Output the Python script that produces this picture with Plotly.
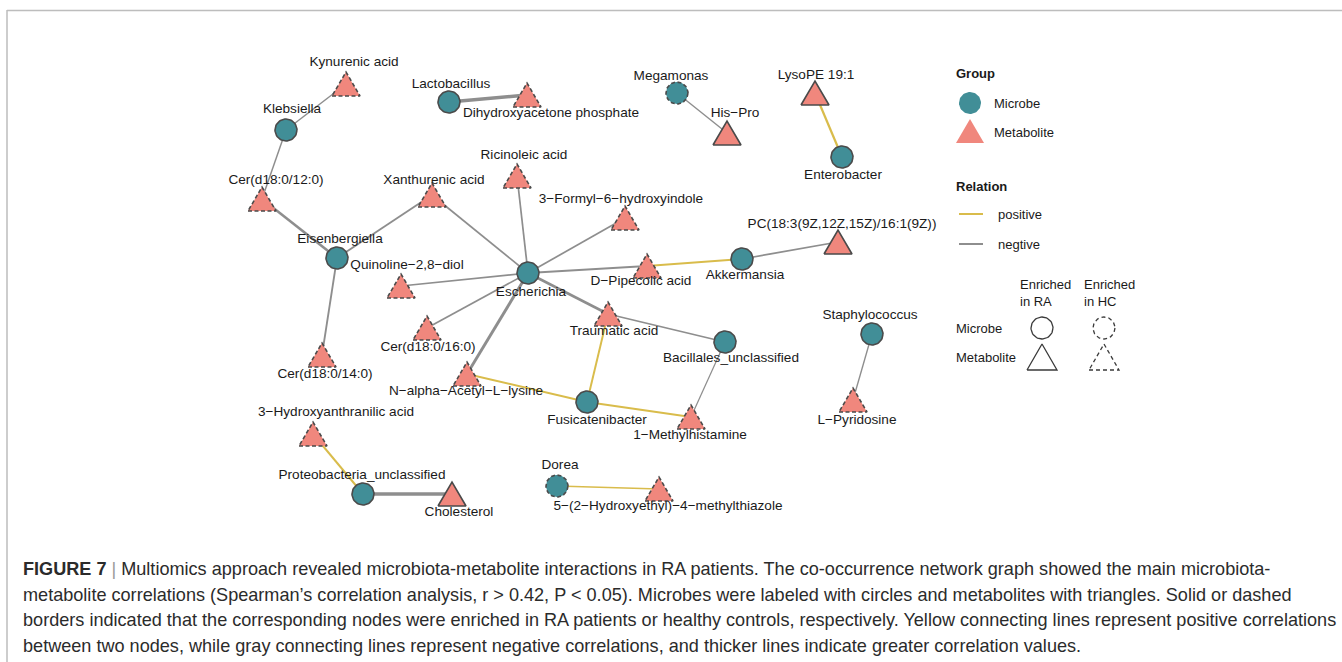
import numpy as np
import plotly.graph_objects as go

W, H = 1342, 662
FONT = "Liberation Sans, Arial, sans-serif"

# ---- nodes -----------------------------------------------------------------
microbes = ["Klebsiella", "Lactobacillus", "Megamonas", "Enterobacter",
            "Eisenbergiella", "Escherichia", "Akkermansia",
            "Bacillales_unclassified", "Staphylococcus", "Fusicatenibacter",
            "Proteobacteria_unclassified", "Dorea"]
microbe_enriched = ["RA", "RA", "HC", "RA", "RA", "RA", "RA", "RA", "RA", "RA",
                    "RA", "HC"]

metabolites = ["Kynurenic acid", "Dihydroxyacetone phosphate", "His−Pro",
               "LysoPE 19:1", "Cer(d18:0/12:0)", "Xanthurenic acid",
               "Ricinoleic acid", "3−Formyl−6−hydroxyindole",
               "PC(18:3(9Z,12Z,15Z)/16:1(9Z))", "D−Pipecolic acid",
               "Quinoline−2,8−diol", "Cer(d18:0/16:0)", "Traumatic acid",
               "Cer(d18:0/14:0)", "N−alpha−Acetyl−L−lysine",
               "1−Methylhistamine", "L−Pyridosine",
               "3−Hydroxyanthranilic acid", "Cholesterol",
               "5−(2−Hydroxyethyl)−4−methylthiazole"]
metabolite_enriched = ["HC", "HC", "RA", "RA", "HC", "HC", "HC", "HC", "RA",
                       "HC", "HC", "HC", "HC", "HC", "HC", "HC", "HC", "HC",
                       "RA", "HC"]

# ---- edges (Spearman r) ------------------------------------------------------
edge_source = ["Klebsiella", "Klebsiella", "Lactobacillus", "Megamonas",
               "Enterobacter", "Eisenbergiella", "Eisenbergiella",
               "Eisenbergiella", "Escherichia", "Escherichia", "Escherichia",
               "Escherichia", "Escherichia", "Escherichia", "Escherichia",
               "Escherichia", "Akkermansia", "Akkermansia",
               "Bacillales_unclassified", "Bacillales_unclassified",
               "Fusicatenibacter", "Fusicatenibacter", "Fusicatenibacter",
               "Staphylococcus", "Proteobacteria_unclassified",
               "Proteobacteria_unclassified", "Dorea"]
edge_target = ["Kynurenic acid", "Cer(d18:0/12:0)", "Dihydroxyacetone phosphate",
               "His−Pro", "LysoPE 19:1", "Cer(d18:0/12:0)", "Xanthurenic acid",
               "Cer(d18:0/14:0)", "Xanthurenic acid", "Ricinoleic acid",
               "3−Formyl−6−hydroxyindole", "D−Pipecolic acid",
               "Quinoline−2,8−diol", "Cer(d18:0/16:0)", "Traumatic acid",
               "N−alpha−Acetyl−L−lysine", "D−Pipecolic acid",
               "PC(18:3(9Z,12Z,15Z)/16:1(9Z))", "Traumatic acid",
               "1−Methylhistamine", "Traumatic acid", "N−alpha−Acetyl−L−lysine",
               "1−Methylhistamine", "L−Pyridosine", "3−Hydroxyanthranilic acid",
               "Cholesterol", "5−(2−Hydroxyethyl)−4−methylthiazole"]
edge_r = [-0.46, -0.46, -0.62, -0.45, 0.52, -0.55, -0.49, -0.49, -0.48, -0.48,
          -0.48, -0.52, -0.48, -0.48, -0.55, -0.58, 0.50, -0.48, -0.48, -0.44,
          0.50, 0.50, 0.50, -0.45, 0.50, -0.62, 0.48]

# ---- network layout (plot units = pixels, y downward) -------------------------
node_xy = {
    "Klebsiella": (286, 130), "Lactobacillus": (449, 102),
    "Megamonas": (677, 93), "Enterobacter": (842, 157),
    "Eisenbergiella": (337, 258), "Escherichia": (528, 273),
    "Akkermansia": (742, 259), "Bacillales_unclassified": (725, 342),
    "Staphylococcus": (872, 334), "Fusicatenibacter": (587, 402),
    "Proteobacteria_unclassified": (363, 494), "Dorea": (557, 486),
    "Kynurenic acid": (346, 84), "Dihydroxyacetone phosphate": (527, 95),
    "His−Pro": (727, 133), "LysoPE 19:1": (815, 93),
    "Cer(d18:0/12:0)": (262, 199), "Xanthurenic acid": (432, 195),
    "Ricinoleic acid": (517, 176), "3−Formyl−6−hydroxyindole": (625, 218),
    "PC(18:3(9Z,12Z,15Z)/16:1(9Z))": (838, 242), "D−Pipecolic acid": (647, 266),
    "Quinoline−2,8−diol": (401, 286), "Cer(d18:0/16:0)": (427, 328),
    "Traumatic acid": (608, 314), "Cer(d18:0/14:0)": (322, 355),
    "N−alpha−Acetyl−L−lysine": (467, 374), "1−Methylhistamine": (691, 417),
    "L−Pyridosine": (853, 400), "3−Hydroxyanthranilic acid": (313, 434),
    "Cholesterol": (452, 494), "5−(2−Hydroxyethyl)−4−methylthiazole": (659, 489),
}
label_xy = {
    "Klebsiella": (292, 110), "Lactobacillus": (451, 85),
    "Megamonas": (671, 77), "Enterobacter": (843, 176),
    "Eisenbergiella": (340, 240), "Escherichia": (531, 293),
    "Akkermansia": (745, 276), "Bacillales_unclassified": (731, 359),
    "Staphylococcus": (870, 316), "Fusicatenibacter": (597, 421),
    "Proteobacteria_unclassified": (362, 476), "Dorea": (560, 466),
    "Kynurenic acid": (354, 63), "Dihydroxyacetone phosphate": (551, 114),
    "His−Pro": (735, 114), "LysoPE 19:1": (816, 76),
    "Cer(d18:0/12:0)": (276, 181), "Xanthurenic acid": (434, 181),
    "Ricinoleic acid": (524, 156), "3−Formyl−6−hydroxyindole": (621, 200),
    "PC(18:3(9Z,12Z,15Z)/16:1(9Z))": (842, 225), "D−Pipecolic acid": (641, 282),
    "Quinoline−2,8−diol": (407, 266), "Cer(d18:0/16:0)": (428, 348),
    "Traumatic acid": (614, 332), "Cer(d18:0/14:0)": (325, 375),
    "N−alpha−Acetyl−L−lysine": (466, 392), "1−Methylhistamine": (690, 436),
    "L−Pyridosine": (857, 421), "3−Hydroxyanthranilic acid": (336, 413),
    "Cholesterol": (459, 513), "5−(2−Hydroxyethyl)−4−methylthiazole": (668, 507),
}

MICROBE_COL = "#418E97"
METAB_COL = "#F0877D"
POS_COL = "#D9BC4B"
NEG_COL = "#8E8E8E"
BORDER_COL = "#4A4A4A"
CIRCLE_R = 11
TRI_HALF_W, TRI_HALF_H = 14, 12


def edge_width(r):
    return 1.0 + (abs(r) - 0.42) * 12


def circle_path(cx, cy, r):
    t = np.linspace(0, 2 * np.pi, 61)
    return cx + r * np.cos(t), cy + r * np.sin(t)


def triangle_path(cx, cy, hw, hh):
    xs = [cx - hw, cx + hw, cx, cx - hw]
    ys = [cy + hh, cy + hh, cy - hh, cy + hh]
    return np.array(xs), np.array(ys)


fig = go.Figure()

# edges
for s, t, r in zip(edge_source, edge_target, edge_r):
    (x0, y0), (x1, y1) = node_xy[s], node_xy[t]
    fig.add_trace(go.Scatter(
        x=[x0, x1], y=[y0, y1], mode="lines", hoverinfo="skip",
        line=dict(color=POS_COL if r > 0 else NEG_COL, width=edge_width(r)),
        showlegend=False))

# nodes
for names, enr, kind in [(microbes, microbe_enriched, "microbe"),
                         (metabolites, metabolite_enriched, "metabolite")]:
    for n, e in zip(names, enr):
        cx, cy = node_xy[n]
        if kind == "microbe":
            xs, ys = circle_path(cx, cy, CIRCLE_R)
            fill = MICROBE_COL
        else:
            xs, ys = triangle_path(cx, cy, TRI_HALF_W, TRI_HALF_H)
            fill = METAB_COL
        fig.add_trace(go.Scatter(
            x=xs, y=ys, mode="lines", fill="toself", fillcolor=fill,
            line=dict(color=BORDER_COL, width=1.6,
                      dash="solid" if e == "RA" else "4px,2.5px"),
            hoverinfo="text", text=n, showlegend=False))

# node labels
all_nodes = microbes + metabolites
fig.add_trace(go.Scatter(
    x=[label_xy[n][0] for n in all_nodes], y=[label_xy[n][1] for n in all_nodes],
    mode="text", text=all_nodes, textposition="middle center",
    textfont=dict(family=FONT, size=13.6, color="#1a1a1a"),
    hoverinfo="skip", showlegend=False))

# ---- legend -------------------------------------------------------------------
def legend_text(x, y, txt, bold=False, size=13):
    fig.add_annotation(x=x, y=y, text=f"<b>{txt}</b>" if bold else txt,
                       showarrow=False, xanchor="left", yanchor="middle",
                       align="left", font=dict(family=FONT, size=size,
                                               color="#1a1a1a"))


legend_text(954, 73, "Group", bold=True)
xs, ys = circle_path(970, 103, CIRCLE_R)
fig.add_trace(go.Scatter(x=xs, y=ys, mode="lines", fill="toself",
                         fillcolor=MICROBE_COL, line=dict(width=0),
                         hoverinfo="skip", showlegend=False))
legend_text(992, 103, "Microbe")
xs, ys = triangle_path(970, 131, TRI_HALF_W, TRI_HALF_H)
fig.add_trace(go.Scatter(x=xs, y=ys, mode="lines", fill="toself",
                         fillcolor=METAB_COL, line=dict(width=0),
                         hoverinfo="skip", showlegend=False))
legend_text(992, 132, "Metabolite")

legend_text(954, 186, "Relation", bold=True)
for yy, col, lab in [(214, POS_COL, "positive"), (244, NEG_COL, "negtive")]:
    fig.add_trace(go.Scatter(x=[959, 983], y=[yy, yy], mode="lines",
                             line=dict(color=col, width=2),
                             hoverinfo="skip", showlegend=False))
    legend_text(996, yy, lab)

legend_text(1018, 293, "Enriched<br>in RA")
legend_text(1082, 293, "Enriched<br>in HC")
legend_text(954, 328, "Microbe")
legend_text(954, 357, "Metabolite")
for cx, dash in [(1042, "solid"), (1104, "4px,3px")]:
    xs, ys = circle_path(cx, 328, CIRCLE_R)
    fig.add_trace(go.Scatter(x=xs, y=ys, mode="lines",
                             line=dict(color="#3a3a3a", width=1.3, dash=dash),
                             hoverinfo="skip", showlegend=False))
    xs, ys = triangle_path(cx, 357, 15, 13)
    fig.add_trace(go.Scatter(x=xs, y=ys, mode="lines",
                             line=dict(color="#3a3a3a", width=1.3, dash=dash),
                             hoverinfo="skip", showlegend=False))

# ---- caption ----------------------------------------------------------------
caption_lines = [
    "<b>FIGURE 7</b> <span style='color:#9a9a9a'>|</span> Multiomics approach "
    "revealed microbiota-metabolite interactions in RA patients. The "
    "co-occurrence network graph showed the main microbiota-",
    "metabolite correlations (Spearman’s correlation analysis, r > 0.42, "
    "P < 0.05). Microbes were labeled with circles and metabolites with "
    "triangles. Solid or dashed",
    "borders indicated that the corresponding nodes were enriched in RA "
    "patients or healthy controls, respectively. Yellow connecting lines "
    "represent positive correlations",
    "between two nodes, while gray connecting lines represent negative "
    "correlations, and thicker lines indicate greater correlation values.",
]
for i, line in enumerate(caption_lines):
    fig.add_annotation(x=21, y=569 + i * 25.7, text=line, showarrow=False,
                       xanchor="left", yanchor="middle", align="left",
                       font=dict(family=FONT, size=18.1, color="#2b2b2b"))

# frame around the panel
fig.add_shape(type="line", xref="x", yref="y", x0=7, x1=W, y0=10.5, y1=10.5,
              line=dict(color="#bdbdbd", width=1.5))
fig.add_shape(type="line", xref="x", yref="y", x0=7, x1=7, y0=10, y1=H,
              line=dict(color="#bdbdbd", width=1.5))

fig.update_layout(
    width=W, height=H, autosize=False,
    margin=dict(l=0, r=0, t=0, b=0),
    paper_bgcolor="white", plot_bgcolor="white",
    xaxis=dict(range=[0, W], visible=False, fixedrange=True),
    yaxis=dict(range=[H, 0], visible=False, fixedrange=True),
    showlegend=False,
)

fig.write_html("out.html")
